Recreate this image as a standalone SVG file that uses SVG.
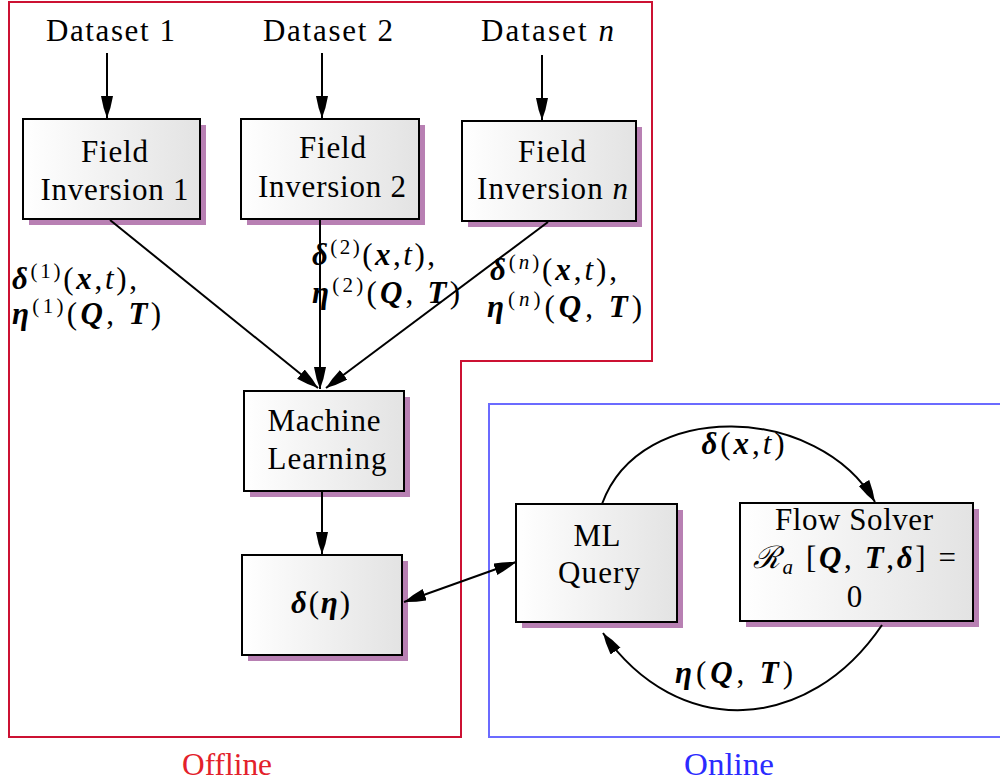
<svg xmlns="http://www.w3.org/2000/svg" width="1000" height="782" viewBox="0 0 1000 782">
  <defs>
    <linearGradient id="boxfill" x1="0" y1="0" x2="1" y2="0">
      <stop offset="0" stop-color="#ffffff"/>
      <stop offset="1" stop-color="#e3e3e3"/>
    </linearGradient>
    <marker id="ah" markerUnits="userSpaceOnUse" markerWidth="23" markerHeight="13" refX="22" refY="6" orient="auto-start-reverse">
      <path d="M0,0 Q12,2 22,6 Q12,10 0,12 Z" fill="#000"/>
    </marker>
    <style>
      text { font-family: "Liberation Serif", "DejaVu Serif", serif; font-size: 31px; fill: #000; }
      .box { fill: url(#boxfill); stroke: #000; stroke-width: 2; }
      .shadow { fill: #b880b3; }
      .bi { font-weight: bold; font-style: italic; }
      .it { font-style: italic; }
      .sup { font-size: 21px; }
      .edge { fill: none; stroke: #000; stroke-width: 2; marker-end: url(#ah); }
      .cal { font-family: "DejaVu Serif", serif; font-style: italic; }
    </style>
  </defs>
  <rect width="1000" height="782" fill="#fff"/>

  <!-- offline / online regions -->
  <g id="regions">
    <path d="M9,2 H652 V361 H461 V737 H9 Z" fill="none" stroke="#cc1133" stroke-width="2"/>
    <path d="M1002,404 H489 V737 H1002" fill="none" stroke="#6b6bff" stroke-width="2"/>
    <text x="227" y="775" text-anchor="middle" style="fill:#e3212b" textLength="90" lengthAdjust="spacingAndGlyphs">Offline</text>
    <text x="729" y="775" text-anchor="middle" style="fill:#2b2bff" textLength="90" lengthAdjust="spacingAndGlyphs">Online</text>
  </g>

  <!-- datasets -->
  <g id="dataset1"><text x="110.5" y="41" text-anchor="middle" textLength="129">Dataset 1</text></g>
  <g id="dataset2"><text x="328" y="41" text-anchor="middle" textLength="130">Dataset 2</text></g>
  <g id="datasetn"><text x="547.5" y="41" text-anchor="middle" textLength="133">Dataset <tspan class="it">n</tspan></text></g>

  <!-- field inversions -->
  <g id="fi1">
    <rect class="shadow" x="29" y="125" width="177" height="100"/>
    <rect class="box" x="23" y="119" width="177" height="100"/>
    <text x="114.5" y="162" text-anchor="middle" textLength="67">Field</text>
    <text x="114.5" y="200" text-anchor="middle" textLength="148">Inversion 1</text>
  </g>
  <g id="fi2">
    <rect class="shadow" x="247" y="125" width="178" height="100"/>
    <rect class="box" x="241" y="119" width="178" height="100"/>
    <text x="332.5" y="158" text-anchor="middle" textLength="67">Field</text>
    <text x="332" y="197" text-anchor="middle" textLength="148">Inversion 2</text>
  </g>
  <g id="fin">
    <rect class="shadow" x="468" y="127" width="174" height="100"/>
    <rect class="box" x="462" y="121" width="174" height="100"/>
    <text x="552" y="162" text-anchor="middle" textLength="68">Field</text>
    <text x="552.5" y="199" text-anchor="middle" textLength="151">Inversion <tspan class="it">n</tspan></text>
  </g>

  <!-- machine learning and its output -->
  <g id="ml">
    <rect class="shadow" x="250" y="397" width="160" height="100"/>
    <rect class="box" x="244" y="391" width="160" height="100"/>
    <text x="324" y="431" text-anchor="middle" textLength="113">Machine</text>
    <text x="327" y="469" text-anchor="middle" textLength="119">Learning</text>
  </g>
  <g id="delta">
    <rect class="shadow" x="248" y="561" width="160" height="100"/>
    <rect class="box" x="242" y="555" width="160" height="100"/>
    <text x="320.5" y="613" text-anchor="middle" textLength="59"><tspan class="bi">δ</tspan>(<tspan class="bi">η</tspan>)</text>
  </g>

  <!-- online loop -->
  <g id="query">
    <rect class="shadow" x="522" y="510" width="161" height="118"/>
    <rect class="box" x="516" y="504" width="161" height="118"/>
    <text x="597" y="546" text-anchor="middle" textLength="47">ML</text>
    <text x="599" y="583" text-anchor="middle" textLength="82">Query</text>
  </g>
  <g id="solver">
    <rect class="shadow" x="746" y="509" width="233" height="118"/>
    <rect class="box" x="740" y="503" width="233" height="118"/>
    <text x="854" y="530" text-anchor="middle" textLength="158">Flow Solver</text>
    <text x="854.5" y="568" text-anchor="middle" textLength="203"><tspan class="cal">ℛ</tspan><tspan class="it sup" dy="6">a</tspan><tspan dy="-6"> [</tspan><tspan class="bi">Q</tspan>,  <tspan class="bi">T</tspan>,<tspan class="bi">δ</tspan>] =</text>
    <text x="854.5" y="607" text-anchor="middle">0</text>
  </g>

  <!-- connectors -->
  <g id="connectors">
    <path class="edge" d="M107,53 V118"/>
    <path class="edge" d="M322,53 V118"/>
    <path class="edge" d="M542,55 V120"/>
    <path class="edge" d="M110,220 L318,388"/>
    <path class="edge" d="M320,220 V389"/>
    <path class="edge" d="M548,222 L326,388"/>
    <path class="edge" d="M322,491 V554"/>
    <path class="edge" d="M404,602 L516,562" marker-start="url(#ah)"/>
    <path class="edge" d="M602,504 C640.6,397.8 818.5,404.1 875,502"/>
    <path class="edge" d="M882,625 C808.6,733.7 677.7,740.4 603,633"/>
  </g>

  <!-- connector labels -->
  <g id="labels">
    <text x="12" y="289" textLength="125"><tspan class="bi">δ</tspan><tspan class="sup" dy="-11">(1)</tspan><tspan dy="11">(</tspan><tspan class="bi">x</tspan>,<tspan class="it">t</tspan>),</text>
    <text x="12" y="324" textLength="149"><tspan class="bi">η</tspan><tspan class="sup" dy="-11">(1)</tspan><tspan dy="11">(</tspan><tspan class="bi">Q</tspan>,  <tspan class="bi">T</tspan>)</text>
    <text x="312" y="265" textLength="123"><tspan class="bi">δ</tspan><tspan class="sup" dy="-11">(2)</tspan><tspan dy="11">(</tspan><tspan class="bi">x</tspan>,<tspan class="it">t</tspan>),</text>
    <text x="312" y="303" textLength="148"><tspan class="bi">η</tspan><tspan class="sup" dy="-11">(2)</tspan><tspan dy="11">(</tspan><tspan class="bi">Q</tspan>,  <tspan class="bi">T</tspan>)</text>
    <text x="490" y="280" textLength="127"><tspan class="bi">δ</tspan><tspan class="sup" dy="-11">(<tspan class="it">n</tspan>)</tspan><tspan dy="11">(</tspan><tspan class="bi">x</tspan>,<tspan class="it">t</tspan>),</text>
    <text x="487" y="317" textLength="155"><tspan class="bi">η</tspan><tspan class="sup" dy="-11">(<tspan class="it">n</tspan>)</tspan><tspan dy="11">(</tspan><tspan class="bi">Q</tspan>,  <tspan class="bi">T</tspan>)</text>
    <text x="743" y="454" text-anchor="middle" textLength="83"><tspan class="bi">δ</tspan>(<tspan class="bi">x</tspan>,<tspan class="it">t</tspan>)</text>
    <text x="734" y="683" text-anchor="middle" textLength="118"><tspan class="bi">η</tspan>(<tspan class="bi">Q</tspan>,  <tspan class="bi">T</tspan>)</text>
  </g>
</svg>
